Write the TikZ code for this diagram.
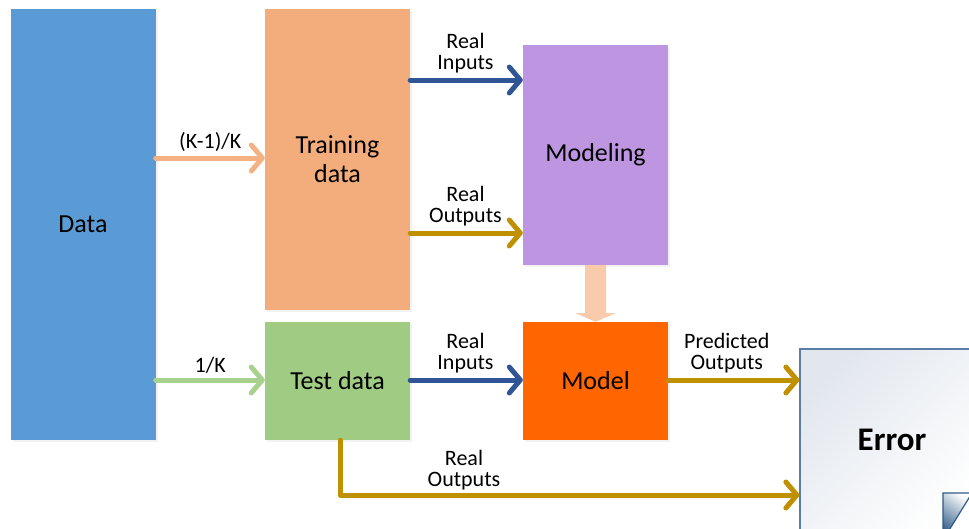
\documentclass[tikz,border=0pt]{standalone}
\usepackage{fontspec}
\setmainfont{Carlito}
\usetikzlibrary{arrows.meta,calc,shadows}

\definecolor{dataBlue}{HTML}{5B9BD5}
\definecolor{trainOrange}{HTML}{F3AC7C}
\definecolor{testGreen}{HTML}{A0CB82}
\definecolor{modelingPurple}{HTML}{BE95E0}
\definecolor{modelOrange}{HTML}{FF6600}
\definecolor{lightOrange}{HTML}{F4B183}
\definecolor{lightGreen}{HTML}{A9D18E}
\definecolor{inBlue}{HTML}{2F5597}
\definecolor{outGold}{HTML}{BF9000}
\definecolor{peach}{HTML}{F8CBAD}
\definecolor{errBorder}{HTML}{5A7DA5}
\definecolor{errTop}{HTML}{E2E7EE}
\definecolor{foldDark}{HTML}{2F5B86}

\begin{document}
\begin{tikzpicture}[x=1pt,y=-1pt,
  box/.style={rectangle, minimum width=145pt, inner sep=0pt, align=center,
    font=\fontsize{26}{29}\selectfont,
    drop shadow={opacity=0.10, shadow xshift=2pt, shadow yshift=-2pt}},
  conn/.style={line width=5pt, line cap=round, line join=round,
    -{Straight Barb[length=11pt,width=26pt,round]}},
  lbl/.style={font=\fontsize{22}{21.5}\selectfont, align=center, inner sep=0pt, text=black}
]
\useasboundingbox (0,0) rectangle (969,528);

% blocks
\node[box, fill=dataBlue, minimum height=431pt] (data) at (83,224.5) {Data};
\node[box, fill=trainOrange, minimum height=301pt] (training) at (337.5,159.5) {Training\\data};
\node[box, fill=testGreen, minimum height=118pt] (test) at (337.5,381) {Test data};
\node[box, fill=modelingPurple, minimum height=220pt] (modeling) at (595.5,155) {Modeling};
\node[box, fill=modelOrange, minimum height=118pt] (model) at (595.5,381) {Model};

% error sheet with folded corner
\node[rectangle, draw=errBorder, line width=1.2pt, top color=errTop, bottom color=white,
  shading angle=45, minimum width=184pt, minimum height=182pt, inner sep=0pt,
  font=\bfseries\fontsize{33}{38}\selectfont] (err) at (892,440) {Error};
\filldraw[draw=foldDark, line width=1.2pt, top color=white, bottom color=foldDark,
  shading angle=-35] (943,493) -- (972,493) -- (943,540) -- cycle;

% split of the data
\draw[conn, lightOrange] (data.east |- 0,158) -- (training.west |- 0,158)
  node[lbl, midway, above=4pt] (lk1) {(K-1)/K};
\draw[conn, lightGreen] (data.east |- 0,380) -- (test.west |- 0,380)
  node[lbl, midway, above=4pt] (lk2) {1/K};

% training data into modeling
\draw[conn, inBlue] (training.east |- 0,80) -- (modeling.west |- 0,80)
  node[lbl, midway, above=4pt, xshift=-1pt] (ri1) {Real\\Inputs};
\draw[conn, outGold] (training.east |- 0,233) -- (modeling.west |- 0,233)
  node[lbl, midway, above=4pt, xshift=-1pt] (ro1) {Real\\Outputs};

% modeling produces the model
\fill[peach] ($(modeling.south)+(-10.5,0)$) -- ($(modeling.south)+(-10.5,48)$)
  -- ($(modeling.south)+(-20,48)$) -- (model.north) -- ($(modeling.south)+(20,48)$)
  -- ($(modeling.south)+(10.5,48)$) -- ($(modeling.south)+(10.5,0)$) -- cycle;

% test data through the model
\draw[conn, inBlue] (test.east |- 0,380) -- (model.west |- 0,380)
  node[lbl, midway, above=4pt, xshift=-1pt] (ri2) {Real\\Inputs};
\draw[conn, outGold] (model.east |- 0,380) -- (err.west |- 0,380)
  node[lbl, midway, above=4pt, xshift=-7pt] (po) {Predicted\\Outputs};
\draw[conn, outGold] ($(test.south)+(2.5,0)$) |- (err.west |- 0,495);
\node[lbl] (ro2) at (464,470) {Real\\Outputs};
\end{tikzpicture}
\end{document}
